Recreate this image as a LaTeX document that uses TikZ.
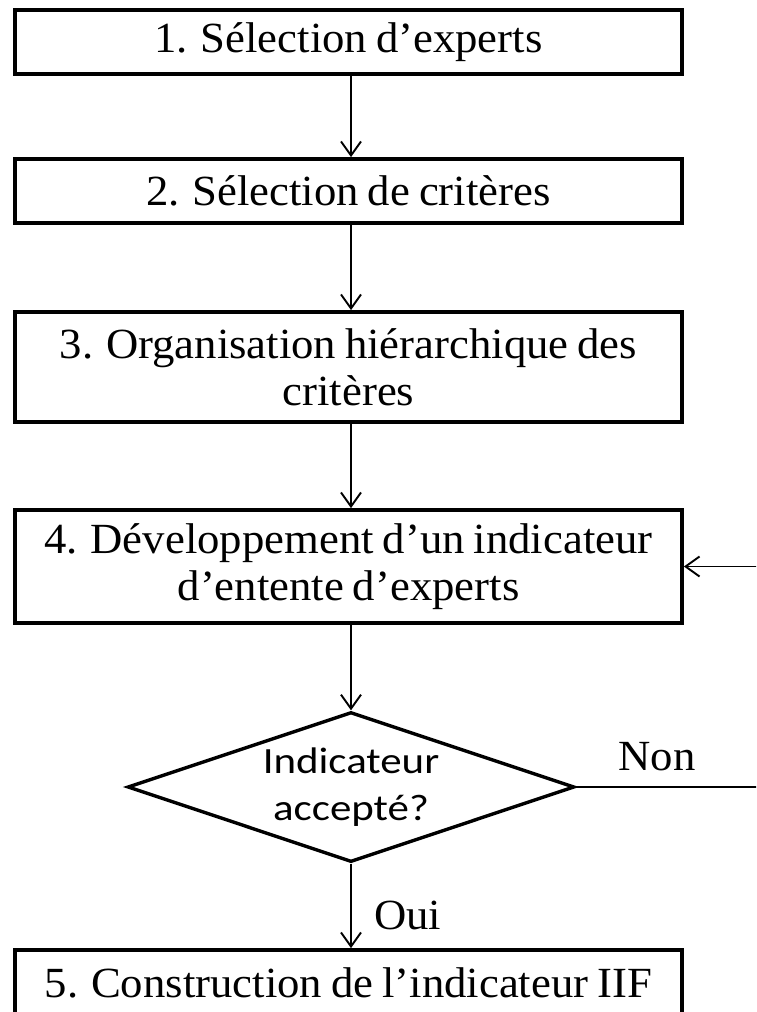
\documentclass[tikz,border=0pt]{standalone}
\usepackage{fontspec}
\setmainfont{Liberation Serif}[FakeStretch=1.04,WordSpace=0.8]
\newfontfamily\decfont{Carlito}[FakeStretch=1.16]
\usetikzlibrary{arrows.meta,shapes.geometric}

\begin{document}
\begin{tikzpicture}[x=1pt,y=-1pt,
  stepbox/.style={draw, line width=3.8pt, minimum width=667pt, inner sep=0pt,
    align=center, font=\fontsize{43}{47}\selectfont},
  decision/.style={draw, diamond, line width=3.4pt, minimum width=447pt,
    minimum height=150pt, inner sep=0pt, aspect=3, align=center,
    font=\decfont\fontsize{37}{47}\selectfont},
  link/.style={line width=1.9pt},
  flow/.style={link, -{Straight Barb[length=14pt,width=20pt,line width=1.9pt]}},
  lbl/.style={font=\fontsize{43}{47}\selectfont, inner sep=0pt}]

  \useasboundingbox (0,0) rectangle (756,1012);
  \clip (0,0) rectangle (756,1012);

  % process steps
  \node[stepbox, minimum height=64pt]  (s1) at (348.5,42)    {1. Sélection d’experts};
  \node[stepbox, minimum height=64pt]  (s2) at (348.5,191)   {2. Sélection de critères};
  \node[stepbox, minimum height=110pt] (s3) at (348.5,367)   {3. Organisation hiérarchique des\\critères};
  \node[stepbox, minimum height=113pt] (s4) at (348.5,566.5) {4. Développement d’un indicateur\\d’entente d’experts};
  \node[decision] (q) at (351,787) {Indicateur\\accepté?};
  \node[stepbox, minimum height=65pt]  (s5) at (348.5,982.5) {5. Construction de l’indicateur IIF};

  % main flow
  \draw[flow] (s1.south -| q) -- (s2.north -| q);
  \draw[flow] (s2.south -| q) -- (s3.north -| q);
  \draw[flow] (s3.south -| q) -- (s4.north -| q);
  \draw[flow] (s4.south -| q) -- (q.north);
  \draw[flow] (q.south) -- (s5.north -| q);

  % rejection loop back to step 4
  \coordinate (loop) at (800,787);
  \draw[flow] (q.east) -- (loop) |- (s4.east);

  % branch labels
  \node[lbl] (non) at (657,757) {Non};
  \node[lbl, anchor=west] (oui) at (374,915) {Oui};
\end{tikzpicture}
\end{document}
